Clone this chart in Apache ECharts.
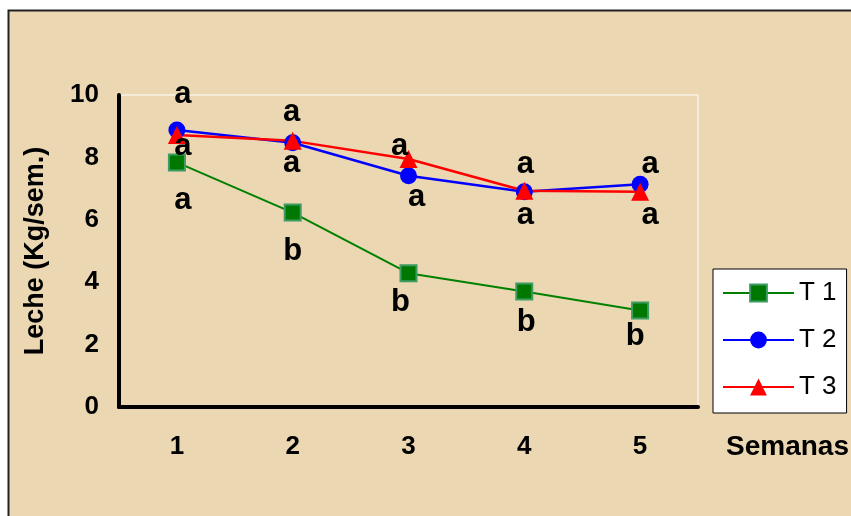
<!DOCTYPE html>
<html>
<head>
<meta charset="utf-8">
<script src="https://cdn.jsdelivr.net/npm/echarts@6/dist/echarts.min.js"></script>
<style>
html,body{margin:0;padding:0;background:#fff;}
#c{width:851px;height:516px;}
</style>
</head>
<body>
<div id="c"></div>
<script>
// ---- data ----
var weeks = ['1', '2', '3', '4', '5'];
var seriesNames = ['T 1', 'T 2', 'T 3'];
var t1 = [7.84, 6.23, 4.29, 3.70, 3.09];
var t2 = [8.88, 8.47, 7.41, 6.90, 7.14];
var t3 = [8.72, 8.53, 7.95, 6.93, 6.90];
var t1Letters = ['a', 'b', 'b', 'b', 'b'];
var t2Letters = ['a', 'a', 'a', 'a', 'a'];
var t3Letters = ['a', 'a', 'a', 'a', 'a'];
var yTicks = [0, 2, 4, 6, 8, 10];
var xName = 'Semanas';
var yName = 'Leche (Kg/sem.)';

// ---- label placement (style only) ----
var t1Off = [[6, 38], [0, 39], [-8, 29], [2, 31], [-5, 26]];
var t2Off = [[6, -35], [-1, 21], [8, 22], [1, 24], [10, -20]];
var t3Off = [[6, 12], [-1, -28], [-9, -13], [1, -26], [10, 24]];

function build(vals, letters, offs) {
  return vals.map(function (v, i) {
    return { value: v, label: { formatter: letters[i], offset: offs[i] } };
  });
}

var font = 'Arial, "Liberation Sans", sans-serif';
var labelStyle = {
  show: true, position: 'inside', color: '#000',
  fontSize: 31, fontWeight: 'bold', fontFamily: font
};

var chart = echarts.init(document.getElementById('c'), null, { renderer: 'canvas' });
chart.setOption({
  backgroundColor: '#ffffff',
  animation: false,
  graphic: [
    { type: 'rect', z: -10, silent: true,
      shape: { x: 8.5, y: 10.5, width: 850, height: 510 },
      style: { fill: '#ebd7b1', stroke: '#222', lineWidth: 2 } },
    { type: 'text', left: 726, top: 433, z: 10,
      style: { text: xName, font: 'bold 28px ' + font, fill: '#000' } }
  ],
  grid: {
    left: 119, top: 95, width: 579, height: 312,
    show: true, borderColor: '#ffffff', borderWidth: 1, backgroundColor: 'transparent'
  },
  legend: {
    orient: 'vertical', left: 713, top: 269,
    padding: [11, 10, 13, 9],
    backgroundColor: '#ffffff', borderColor: '#000', borderWidth: 1,
    itemWidth: 71, itemHeight: 21, itemGap: 21,
    textStyle: { fontSize: 26, color: '#000', fontFamily: font },
    data: seriesNames
  },
  xAxis: {
    type: 'category', data: weeks, boundaryGap: true,
    axisLine: { lineStyle: { color: '#000', width: 4 } },
    axisTick: { show: false },
    axisLabel: { color: '#000', fontSize: 26, fontWeight: 'bold', fontFamily: font, margin: 27 },
    splitLine: { show: false }
  },
  yAxis: {
    type: 'value', min: yTicks[0], max: yTicks[yTicks.length - 1], interval: 2,
    name: yName, nameLocation: 'middle', nameGap: 70, nameRotate: 90,
    nameTextStyle: { color: '#000', fontSize: 27, fontWeight: 'bold', fontFamily: font },
    axisLine: { show: true, lineStyle: { color: '#000', width: 4 } },
    axisTick: { show: false },
    axisLabel: { color: '#000', fontSize: 26, fontWeight: 'bold', fontFamily: font, margin: 20 },
    splitLine: { show: false }
  },
  series: [
    { name: seriesNames[0], type: 'line', data: build(t1, t1Letters, t1Off),
      symbol: 'rect', symbolSize: 16,
      lineStyle: { color: '#008000', width: 2 },
      itemStyle: { color: '#007800', borderColor: '#3d9b63', borderWidth: 2 },
      label: labelStyle },
    { name: seriesNames[1], type: 'line', data: build(t2, t2Letters, t2Off),
      symbol: 'circle', symbolSize: 17,
      lineStyle: { color: '#0000ff', width: 2.5 },
      itemStyle: { color: '#0000ff' },
      label: labelStyle },
    { name: seriesNames[2], type: 'line', data: build(t3, t3Letters, t3Off),
      symbol: 'triangle', symbolSize: 18,
      lineStyle: { color: '#ff0000', width: 2.5 },
      itemStyle: { color: '#ff0000' },
      label: labelStyle }
  ]
});
</script>
</body>
</html>
